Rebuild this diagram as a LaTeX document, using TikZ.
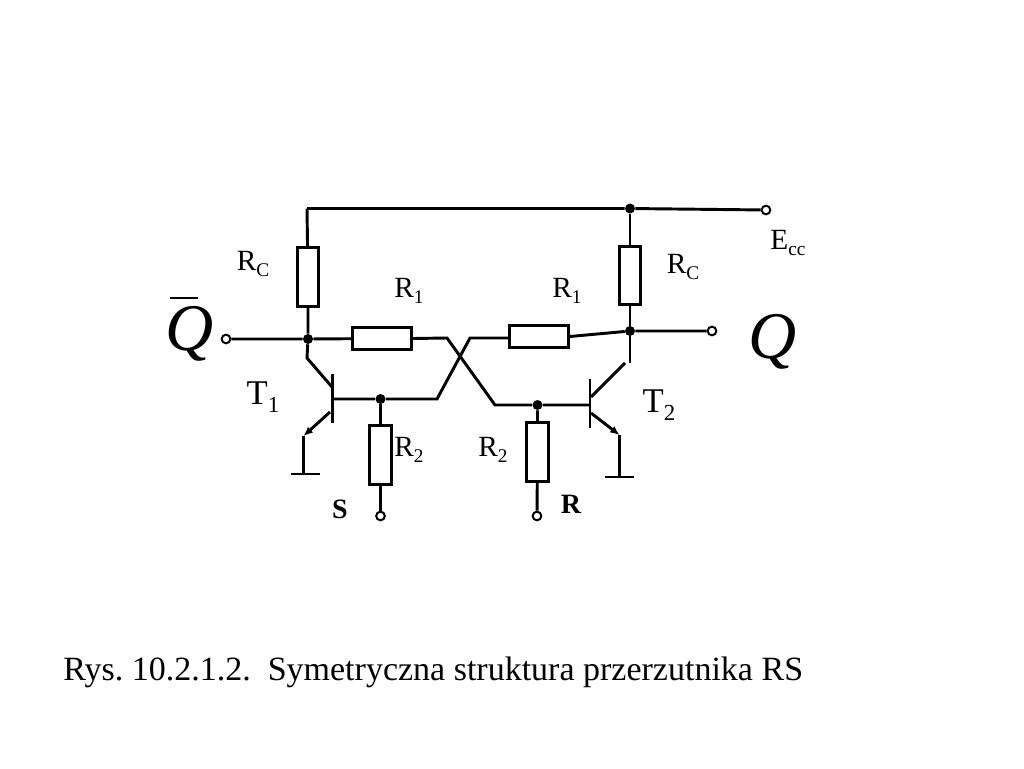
\documentclass[tikz,border=0pt]{standalone}
\usepackage{fontspec}
\setmainfont{Liberation Serif}
\usetikzlibrary{arrows,arrows.meta}
\newcommand{\lowidx}[1]{\raisebox{-0.5ex}{\scalebox{0.66}{#1}}}
\tikzset{
  wire/.style={line width=2.2pt},
  res/.style={draw,line width=2.2pt,fill=white,inner sep=0pt,minimum width=#1},
  hres/.style={res=44pt,minimum height=16pt},
  vres/.style={res=16pt,minimum height=44pt},
  dot/.style={circle,fill=black,inner sep=0pt,minimum size=7.5pt},
  term/.style={circle,draw,line width=1.5pt,fill=white,inner sep=0pt,minimum size=6.5pt},
  lab/.style={inner sep=0pt,font=\fontsize{22}{22}\selectfont},
  biglab/.style={inner sep=0pt,font=\fontsize{26}{26}\selectfont},
  boldlab/.style={inner sep=0pt,font=\fontsize{21}{21}\selectfont\bfseries},
  qlab/.style={inner sep=0pt,font=\fontsize{50}{50}\selectfont\itshape}
}
\begin{document}
\begin{tikzpicture}[x=0.75pt,y=-0.75pt]
\useasboundingbox (0,0) rectangle (1024,768);
% rail and outputs
\coordinate (top_l) at (307,208.5);
\node[dot] (top_r) at (630,208.5) {};
\node[term] (t_ecc) at (766,210) {};
\node[dot] (d_l) at (308,339) {};
\node[dot] (d_r) at (630,331) {};
\node[term] (t_qb) at (226,339) {};
\node[term] (t_q) at (712,331) {};
% resistors
\node[vres] (rc_l) at (308,277) {};
\node[vres] (rc_r) at (630,275.5) {};
\node[hres] (r1_l) at (382,338.5) {};
\node[hres] (r1_r) at (539,336.5) {};
\node[vres] (r2_l) at (380.5,455) {};
\node[vres] (r2_r) at (537.5,452) {};
% base nodes
\node[dot] (b_l) at (380.5,399) {};
\node[dot] (b_r) at (537.5,405) {};
\node[term] (t_s) at (380.5,516) {};
\node[term] (t_r) at (537,516) {};
% transistors
\coordinate (bar1a) at (332.5,374);
\coordinate (bar1b) at (332.5,423);
\coordinate (bar2a) at (590,379);
\coordinate (bar2b) at (590,428);
\coordinate (base1) at (332.5,399);
\coordinate (base2) at (590,405);
\coordinate (c1a) at (307,358);
\coordinate (c1b) at (332,387);
\coordinate (e1a) at (330,412);
\coordinate (e1b) at (303.5,436);
\coordinate (c2a) at (630,363);
\coordinate (c2b) at (625,363);
\coordinate (c2c) at (591,397);
\coordinate (e2a) at (591,413);
\coordinate (e2b) at (619.5,435);
% ground
\coordinate (g1) at (303.5,474);
\coordinate (g1a) at (291,474);
\coordinate (g1b) at (320,474);
\coordinate (g2) at (619.5,477);
\coordinate (g2a) at (605,477);
\coordinate (g2b) at (634,477);
% cross
\coordinate (x1) at (447,338);
\coordinate (x2) at (495,405);
\coordinate (x3) at (437,399);
\coordinate (x4) at (470,338);

\draw[wire] (top_l) -- (top_r) -- (t_ecc);
\draw[wire] (top_l) -- (rc_l) -- (d_l) -- (c1a) -- (c1b);
\draw[wire] (top_r) -- (rc_r) -- (d_r) -- (c2a);
\draw[wire] (c2b) -- (c2c);
\draw[wire] (t_qb) -- (d_l) -- (r1_l);
\draw[wire] (r1_l.east) -- (x1) -- (x2) -- (b_r) -- (base2);
\draw[wire] (base1) -- (b_l) -- (x3) -- (x4) -- (r1_r.west |- x4);
\draw[wire] (r1_r.east) -- (d_r) -- (t_q);
\draw[wire] (bar1a) -- (bar1b);
\draw[wire] (bar2a) -- (bar2b);
\draw[wire,-{Latex[length=7pt,width=6pt]}] (e1a) -- (e1b);
\draw[wire,-{Latex[length=7pt,width=6pt]}] (e2a) -- (e2b);
\draw[wire] (e1b) -- (g1);
\draw[wire] (e2b) -- (g2);
\draw[wire] (g1a) -- (g1b);
\draw[wire] (g2a) -- (g2b);
\draw[wire] (b_l) -- (r2_l) -- (t_s);
\draw[wire] (b_r) -- (r2_r) -- (t_r);

% labels
\node[lab] (l_rc1) at (253,264) {R\lowidx{C}};
\node[lab] (l_rc2) at (683,267) {R\lowidx{C}};
\node[lab] (l_r11) at (409,291) {R\lowidx{1}};
\node[lab] (l_r12) at (567,291) {R\lowidx{1}};
\node[lab] (l_r21) at (409,450) {R\lowidx{2}};
\node[lab] (l_r22) at (493,450) {R\lowidx{2}};
\node[lab] (l_ecc) at (788,243) {E\lowidx{cc}};
\node[biglab] (l_t1) at (263,397) {T\lowidx{1}};
\node[biglab] (l_t2) at (659,405) {T\lowidx{2}};
\node[boldlab] (l_s) at (340,509) {S};
\node[boldlab] (l_r) at (571,504) {R};
\node[qlab] (l_qb) at (190,334) {Q};
\draw[line width=1.4pt] (170,298) -- (198,298);
\node[qlab] (l_q) at (773,342) {Q};
\node[inner sep=0pt,anchor=base west,font=\fontsize{25.5}{25.5}\selectfont\frenchspacing] (cap) at (63,680) {Rys. 10.2.1.2.\ \ Symetryczna struktura przerzutnika RS};
\end{tikzpicture}
\end{document}
